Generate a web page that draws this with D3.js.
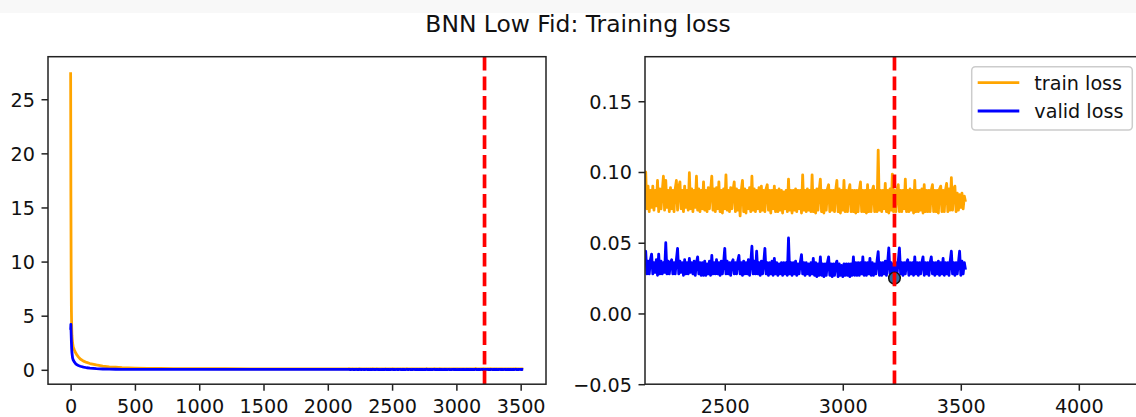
<!DOCTYPE html>
<html>
<head>
<meta charset="utf-8">
<title>BNN Low Fid: Training loss</title>
<script src="https://cdn.jsdelivr.net/npm/d3@7"></script>
<style>
  body { margin: 0; background: #fff; }
  svg { display: block; font-family: 'DejaVu Sans', sans-serif; }
</style>
</head>
<body>
<div class="chart"></div>
<script>

// first part of the run (loss falls fast), sampled where the curve bends
const earlyEpochs = [0, 2, 4, 6, 8, 10, 15, 20, 30, 40, 50, 60, 75, 100, 125, 150, 200, 250, 300,
    350, 400, 500, 600, 700, 800, 1000, 1200, 1400, 1600, 1800, 2000, 2100]
const trainEarly = [27.5, 16.0, 9.0, 5.5, 4.0, 3.2, 2.5, 2.1, 1.8, 1.55, 1.35, 1.2, 1.0, 0.8, 0.68, 0.58, 0.45, 0.35, 0.28,
    0.24, 0.2, 0.16, 0.14, 0.125, 0.115, 0.105, 0.098, 0.094, 0.091, 0.088, 0.086, 0.085]
const validEarly = [3.7, 4.2, 3.4, 2.6, 2.0, 1.6, 1.1, 0.9, 0.7, 0.55, 0.46, 0.4, 0.33, 0.25, 0.19, 0.15, 0.1, 0.075, 0.06,
    0.052, 0.047, 0.042, 0.04, 0.038, 0.037, 0.035, 0.034, 0.033, 0.033, 0.032, 0.032, 0.032]

// tail of the run, one value every 5 epochs from 2160 to 3520
const tailEpochs = d3.range(2160, 3521, 5)
const trainTail = [
    .087, .100, .074, .090, .072, .087, .075, .090, .073, .087, .076, .094, .072, .088, .074, .086, .097, .073, .094, .075,
    .087, .072, .089, .074, .087, .072, .088, .094, .073, .089, .093, .074, .087, .072, .090, .075, .087, .073, .0995, .074,
    .088, .072, .087, .075, .097, .073, .088, .072, .087, .074, .093, .073, .087, .072, .089, .074, .087, .097, .073, .088,
    .072, .089, .074, .093, .072, .087, .071, .088, .074, .098, .073, .087, .072, .089, .074, .087, .093, .072, .088, .073,
    .087, .069, .087, .094, .072, .088, .071, .087, .074, .089, .072, .097, .073, .088, .072, .087, .074, .089, .072, .090,
    .073, .087, .072, .088, .091, .073, .087, .071, .087, .074, .090, .072, .087, .072, .088, .073, .087, .071, .086, .074,
    .087, .072, .095, .073, .087, .071, .087, .073, .088, .072, .087, .074, .087, .071, .098, .073, .087, .072, .088, .073,
    .087, .072, .098, .072, .087, .071, .088, .073, .087, .095, .072, .087, .071, .087, .073, .088, .091, .072, .087, .073,
    .087, .072, .087, .094, .072, .088, .071, .087, .073, .094, .072, .087, .072, .087, .091, .072, .087, .072, .087, .071,
    .087, .072, .087, .093, .072, .087, .072, .087, .071, .091, .072, .087, .072, .087, .090, .072, .087, .072, .1155, .073,
    .087, .072, .087, .074, .092, .072, .087, .071, .088, .073, .0985, .072, .087, .072, .087, .091, .072, .087, .072, .087,
    .074, .095, .072, .087, .072, .088, .073, .087, .071, .094, .072, .087, .072, .087, .073, .088, .071, .091, .072, .087,
    .072, .087, .072, .087, .091, .072, .087, .072, .087, .071, .088, .090, .072, .087, .072, .087, .092, .072, .088, .073,
    .096, .073, .088, .090, .072, .085, .073, .084, .075, .085, .074, .083, .079]
const validTail = [
    .038, .044, .028, .037, .028, .038, .042, .028, .036, .029, .038, .027, .042, .028, .037, .028, .036, .029, .050, .028,
    .037, .028, .036, .038, .028, .036, .028, .038, .046, .028, .037, .029, .036, .027, .038, .028, .036, .028, .039, .029,
    .036, .028, .037, .027, .036, .040, .028, .036, .027, .036, .027, .037, .027, .035, .028, .037, .027, .041, .028, .036,
    .028, .038, .028, .036, .027, .037, .028, .036, .046, .028, .037, .028, .036, .027, .036, .038, .028, .036, .028, .037,
    .041, .028, .036, .027, .037, .028, .036, .028, .038, .027, .036, .0475, .028, .037, .028, .044, .028, .036, .027, .037,
    .028, .036, .046, .028, .036, .027, .036, .028, .037, .027, .039, .028, .036, .027, .035, .028, .036, .027, .036, .028,
    .036, .027, .0534, .028, .036, .027, .036, .028, .037, .027, .035, .028, .036, .0416, .028, .036, .027, .036, .028, .035,
    .027, .036, .028, .039, .027, .036, .026, .035, .027, .040, .027, .035, .026, .035, .027, .036, .040, .027, .035, .026,
    .035, .027, .035, .037, .026, .035, .027, .034, .026, .035, .027, .035, .027, .035, .026, .035, .027, .040, .027, .036,
    .027, .036, .027, .036, .028, .040, .027, .036, .027, .036, .028, .039, .027, .036, .027, .035, .028, .037, .0437, .027,
    .036, .027, .036, .028, .037, .027, .036, .0463, .028, .036, .027, .035, .025, .036, .028, .037, .0463, .028, .036, .027,
    .036, .028, .036, .038, .027, .036, .028, .036, .027, .040, .028, .036, .027, .036, .028, .036, .040, .027, .036, .028,
    .036, .027, .036, .040, .028, .036, .027, .036, .028, .037, .027, .036, .028, .039, .027, .036, .028, .036, .027, .037,
    .044, .028, .036, .027, .036, .028, .036, .044, .027, .037, .028, .036, .031]

const bestEpoch = 3219
const bestValid = 0.025

const leftXTicks = [0, 500, 1000, 1500, 2000, 2500, 3000, 3500]
const leftYTicks = [0, 5, 10, 15, 20, 25]
const rightXTicks = [2500, 3000, 3500, 4000]
const rightYTicks = [-0.05, 0, 0.05, 0.1, 0.15]
const seriesNames = ['train loss', 'valid loss']
const seriesColors = ['orange', 'blue']
const titleText = 'BNN Low Fid: Training loss'

// build the two series (epoch, loss)
const train = earlyEpochs.map((e, i) => [e, trainEarly[i]])
    .concat(tailEpochs.map((e, i) => [e, trainTail[i]]))
const valid = earlyEpochs.map((e, i) => [e, validEarly[i]])
    .concat(tailEpochs.map((e, i) => [e, validTail[i]]))
const series = [train, valid]

const w = 1136
const h = 417
const plotTop = 56.7
const plotBottom = 384.2
const fontSize = 19.2

const svg = d3.select('.chart')
    .append('svg')
    .attr('width', w)
    .attr('height', h)

svg.append('rect')
    .attr('width', w)
    .attr('height', 13)
    .attr('fill', '#f8f8f8')

svg.append('text')
    .attr('x', 578)
    .attr('y', 32)
    .attr('text-anchor', 'middle')
    .attr('font-size', '23.4px')
    .attr('fill', '#111')
    .text(titleText)

function drawPanel(id, xScale, yScale, xTicks, yTicks, yFormat) {
    const [x0, x1] = xScale.range()
    const g = svg.append('g').attr('id', id)

    g.append('clipPath')
        .attr('id', id + '-clip')
        .append('rect')
        .attr('x', x0).attr('y', plotTop)
        .attr('width', x1 - x0).attr('height', plotBottom - plotTop)

    const line = d3.line()
        .x(d => xScale(d[0]))
        .y(d => yScale(d[1]))

    const plot = g.append('g').attr('clip-path', 'url(#' + id + '-clip)')

    plot.selectAll('path.loss')
        .data(series)
        .enter()
        .append('path')
        .attr('class', 'loss')
        .attr('d', line)
        .attr('fill', 'none')
        .attr('stroke', (d, i) => seriesColors[i])
        .attr('stroke-width', 2.8)
        .attr('stroke-linejoin', 'round')

    if (id === 'right') {
        plot.append('circle')
            .attr('cx', xScale(bestEpoch))
            .attr('cy', yScale(bestValid))
            .attr('r', 5.8)
            .attr('fill', '#2b6ca3')
            .attr('stroke', '#111')
            .attr('stroke-width', 1.5)
    }

    // best epoch marker, dashes start at the bottom like matplotlib's axvline
    plot.append('line')
        .attr('x1', xScale(bestEpoch)).attr('x2', xScale(bestEpoch))
        .attr('y1', plotBottom).attr('y2', plotTop)
        .attr('stroke', 'red')
        .attr('stroke-width', 3.7)
        .attr('stroke-dasharray', '13.7 5.9')

    const xAxis = d3.axisBottom(xScale)
        .tickValues(xTicks)
        .tickSize(6.5)
        .tickPadding(9)
        .tickFormat(d3.format('d'))

    const yAxis = d3.axisLeft(yScale)
        .tickValues(yTicks)
        .tickSize(6.5)
        .tickPadding(6.5)
        .tickFormat(yFormat)

    const gx = g.append('g')
        .attr('transform', 'translate(0,' + plotBottom + ')')
        .call(xAxis)
    const gy = g.append('g')
        .attr('transform', 'translate(' + x0 + ',0)')
        .call(yAxis)

    for (const a of [gx, gy]) {
        a.select('.domain').remove()
        a.selectAll('line').attr('stroke', '#222').attr('stroke-width', 1.5)
        a.selectAll('text')
            .attr('font-family', "'DejaVu Sans', sans-serif")
            .attr('font-size', fontSize + 'px')
            .attr('fill', '#111')
    }
    gy.selectAll('text').attr('dy', '0.36em')

    g.append('rect')
        .attr('x', x0).attr('y', plotTop)
        .attr('width', x1 - x0).attr('height', plotBottom - plotTop)
        .attr('fill', 'none')
        .attr('stroke', '#222')
        .attr('stroke-width', 1.5)
}

const xLeft = d3.scaleLinear().domain([-176, 3697]).range([48, 546])
const yLeft = d3.scaleLinear().domain([-1.33, 28.93]).range([plotBottom, plotTop])
drawPanel('left', xLeft, yLeft, leftXTicks, leftYTicks, d3.format('d'))

const xRight = d3.scaleLinear().domain([2162, 4272]).range([645, 1143])
const yRight = d3.scaleLinear().domain([-0.05, 0.1815]).range([plotBottom, plotTop])
drawPanel('right', xRight, yRight, rightXTicks, rightYTicks, d3.format('.2f'))

// legend, upper right of the right panel
const legend = svg.append('g').attr('transform', 'translate(971.7, 66.7)')
legend.append('rect')
    .attr('width', 160.6)
    .attr('height', 63.3)
    .attr('rx', 3.7)
    .attr('fill', 'white')
    .attr('fill-opacity', 0.8)
    .attr('stroke', '#cccccc')
    .attr('stroke-width', 1.5)

const items = legend.selectAll('g.item')
    .data(seriesNames)
    .enter()
    .append('g')
    .attr('class', 'item')
    .attr('transform', (d, i) => 'translate(0,' + (16 + i * 28.3) + ')')

items.append('line')
    .attr('x1', 6).attr('x2', 47.6)
    .attr('stroke', (d, i) => seriesColors[i])
    .attr('stroke-width', 2.8)

items.append('text')
    .attr('x', 62.6)
    .attr('y', 6.8)
    .attr('font-size', fontSize + 'px')
    .attr('fill', '#111')
    .text(d => d)

</script>
</body>
</html>
